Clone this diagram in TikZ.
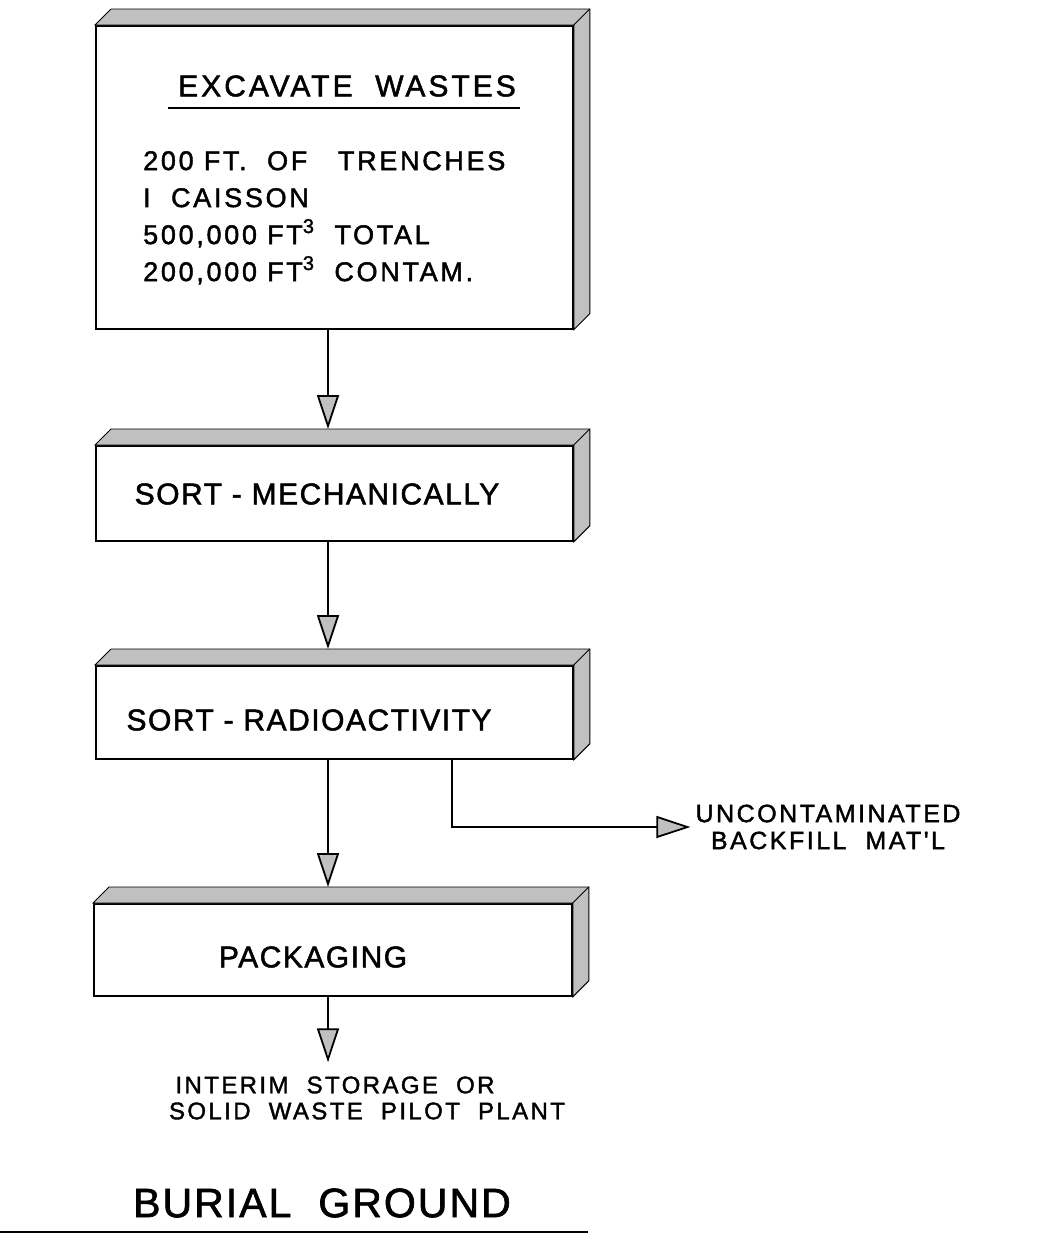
\documentclass[tikz,border=0pt]{standalone}
\usepackage{fontspec}
\setmainfont{Liberation Sans}
\newfontfamily\lroy[LetterSpace=10, FakeBold=1.6]{Liberation Sans}
\newfontfamily\lroyn[LetterSpace=5, FakeBold=1.6]{Liberation Sans}
\usetikzlibrary{arrows.meta}
\usetikzlibrary{calc, math}
\definecolor{bevelgray}{RGB}{192,192,192}
\newcommand{\cube}{\raisebox{11pt}{\fontsize{20}{20}\selectfont 3}}

\tikzset{
  box/.style={draw, line width=1.8pt, fill=white, inner sep=0pt, anchor=north west},
  bevel/.style={draw, line width=0.9pt, fill=bevelgray},
  flow/.style={line width=1.8pt, -{Triangle[length=34pt, width=22pt, fill=bevelgray]}},
  txt/.style={font=\lroyn\fontsize{30}{36}\selectfont, inner sep=0pt},
  note/.style={font=\lroy\fontsize{24}{27}\selectfont, inner sep=0pt, align=center},
}

\begin{document}
\begin{tikzpicture}[x=1pt, y=-1pt]
\tikzmath{
\d=16; % depth of the boxes
}
\useasboundingbox (0,0) rectangle (1051,1250);
\coordinate (axis) at (328,0);%line of the main flow
\coordinate (branch) at (452,0);

%boxes
\node[box, minimum width=477pt, minimum height=303pt] (exc) at (95,25) {};
\node[box, minimum width=477pt, minimum height=95pt] (mech) at (95,445) {};
\node[box, minimum width=477pt, minimum height=93pt] (rad) at (95,665) {};
\node[box, minimum width=478pt, minimum height=92pt] (pack) at (93,903) {};

\foreach \b in {exc,mech,rad,pack}{
  \filldraw[bevel] (\b.north west) -- ++(\d,-\d) -- ($(\b.north east)+(\d,-\d)$)
    -- ($(\b.south east)+(\d,-\d)$) -- (\b.south east) -- (\b.north east) -- cycle;
  \draw[line width=0.9pt] (\b.north east) -- ++(\d,-\d);
}

%texts
\node[txt, font=\lroy\fontsize{30}{36}\selectfont] (t-exc) at (347,86) {EXCAVATE\ \ WASTES};
\draw[line width=2.4pt] ($(t-exc.south west)+(-10,11)$) -- ($(t-exc.south east)+(4,11)$);
\node[txt, font=\lroy\fontsize{27}{37}\selectfont, align=left, anchor=north west] (t-list) at (143,151)
  {200 FT.\ \ OF\ \ \ TRENCHES\\ I\ \ CAISSON\\ 500,000\ FT\cube\ \ TOTAL\\ 200,000\ FT\cube\ \ CONTAM.};
\node[txt] (t-mech) at (317,494) {SORT - MECHANICALLY};
\node[txt] (t-rad) at (309,720) {SORT - RADIOACTIVITY};
\node[txt] (t-pack) at (313,957) {PACKAGING};

\node[note, font=\lroy\fontsize{25}{27}\selectfont, inner sep=5pt] (backfill) at (828,827) {UNCONTAMINATED\\ BACKFILL\ \ MAT'L};
\node[note] (dest1) at (335,1085) {INTERIM\ \ STORAGE\ \ OR};
\node[note] (dest2) at (367,1111) {SOLID\ \ WASTE\ \ PILOT\ \ PLANT};
\node[txt, font=\lroyn\fontsize{41}{48}\selectfont] (ground) at (322,1203) {BURIAL\ \ GROUND};
\draw[line width=2.6pt] (0,1232) -- (588,1232);

%flow
\draw[flow] (exc.south -| axis) -- ($(mech.north -| axis)+(0,-\d)$);
\draw[flow] (mech.south -| axis) -- ($(rad.north -| axis)+(0,-\d)$);
\draw[flow] (rad.south -| axis) -- ($(pack.north -| axis)+(0,-\d)$);
\draw[flow] (rad.south -| branch) |- (backfill.west);
\draw[flow, shorten >=14pt] (pack.south -| axis) -- (dest1.north -| axis);
\end{tikzpicture}
\end{document}
